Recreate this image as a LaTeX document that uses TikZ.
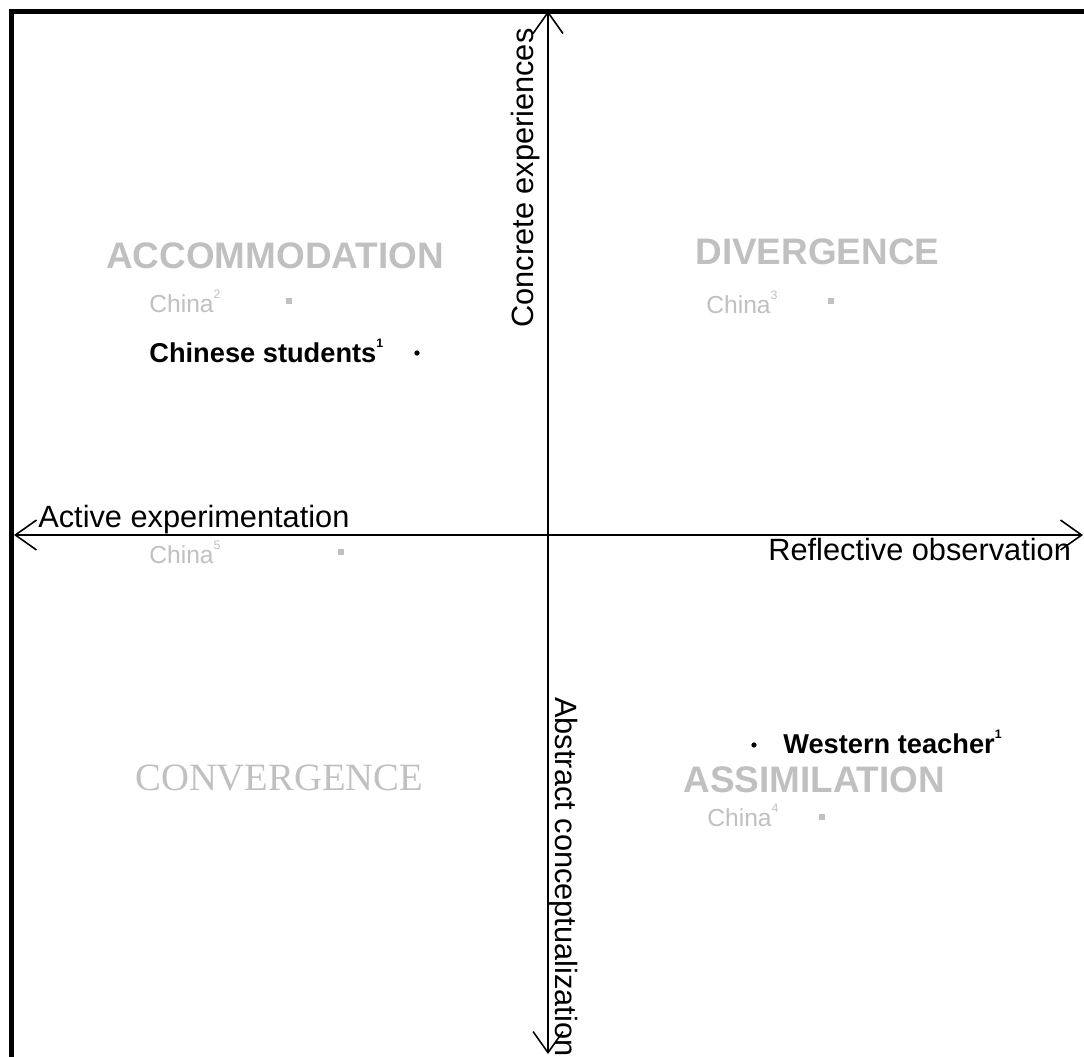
\documentclass[tikz,border=0pt]{standalone}
\usepackage{fontspec}
\setmainfont{Liberation Sans}
\newfontfamily\timesfont{Liberation Serif}
\usetikzlibrary{arrows.meta}

\definecolor{stylegray}{RGB}{192,192,192}

% small footnote marks after the labels
\newcommand{\fnmark}[1]{\raisebox{0.55em}{\fontsize{7}{8}\selectfont #1}}

\tikzset{
  quadrant/.style={font=\fontsize{21}{25}\selectfont\bfseries, text=stylegray, inner sep=0pt, anchor=base west},
  axislabel/.style={font=\fontsize{17.5}{21}\selectfont, inner sep=0pt, anchor=base west},
  country/.style={font=\fontsize{14}{17}\selectfont, text=stylegray, inner sep=0pt, anchor=base west},
  group/.style={font=\fontsize{15.5}{18}\selectfont\bfseries, inner sep=0pt, anchor=base west},
  marker/.style={rectangle, fill=stylegray, inner sep=0pt, minimum size=3.4pt},
  dot/.style={circle, fill=black, inner sep=0pt, minimum size=3pt}
}

\begin{document}
\begin{tikzpicture}[x=0.2mm, y=-0.2mm, >={Straight Barb[length=12pt,width=17pt]}]
    \useasboundingbox (0,0) rectangle (1084,1056);
    % frame, partly off the page
    \draw[line width=2.8pt] (11.5,11.5) rectangle (1090,1061);

    % the two axes
    \coordinate (top) at (548,11);
    \coordinate (bottom) at (548,1054);
    \coordinate (left) at (14,535);
    \coordinate (right) at (1083,535);
    \draw[<->, line width=0.9pt] (left) -- (right);
    \draw[<->, line width=0.9pt] (bottom) -- (top);

    \node[axislabel, rotate=90] (concrete) at (533,328) {Concrete experiences};
    \node[axislabel, rotate=-90] (abstract) at (555,697) {Abstract conceptualization};
    \node[axislabel] (active) at (38,527) {Active experimentation};
    \node[axislabel] (reflective) at (768,560) {Reflective observation};

    % learning styles
    \node[quadrant] (accommodation) at (106,268) {ACCOMMODATION};
    \node[quadrant] (divergence) at (695,264) {DIVERGENCE};
    \node[quadrant, font=\fontsize{22}{26}\selectfont\timesfont] (convergence) at (135,790) {CONVERGENCE};
    \node[quadrant] (assimilation) at (683,792) {ASSIMILATION};

    % positions of the groups
    \node[country] (china2) at (149,312) {China\fnmark{2}};
    \node[marker] (m2) at (289,301) {};
    \node[group] (students) at (149,362) {Chinese students\fnmark{1}};
    \node[dot] (d1) at (417,353) {};
    \node[country] (china3) at (706,313) {China\fnmark{3}};
    \node[marker] (m3) at (831,301) {};
    \node[country] (china5) at (149,563) {China\fnmark{5}};
    \node[marker] (m5) at (341,552) {};
    \node[dot] (d2) at (754,745) {};
    \node[group] (teacher) at (783,753) {Western teacher\fnmark{1}};
    \node[country] (china4) at (707,826) {China\fnmark{4}};
    \node[marker] (m4) at (822,817) {};
\end{tikzpicture}
\end{document}
